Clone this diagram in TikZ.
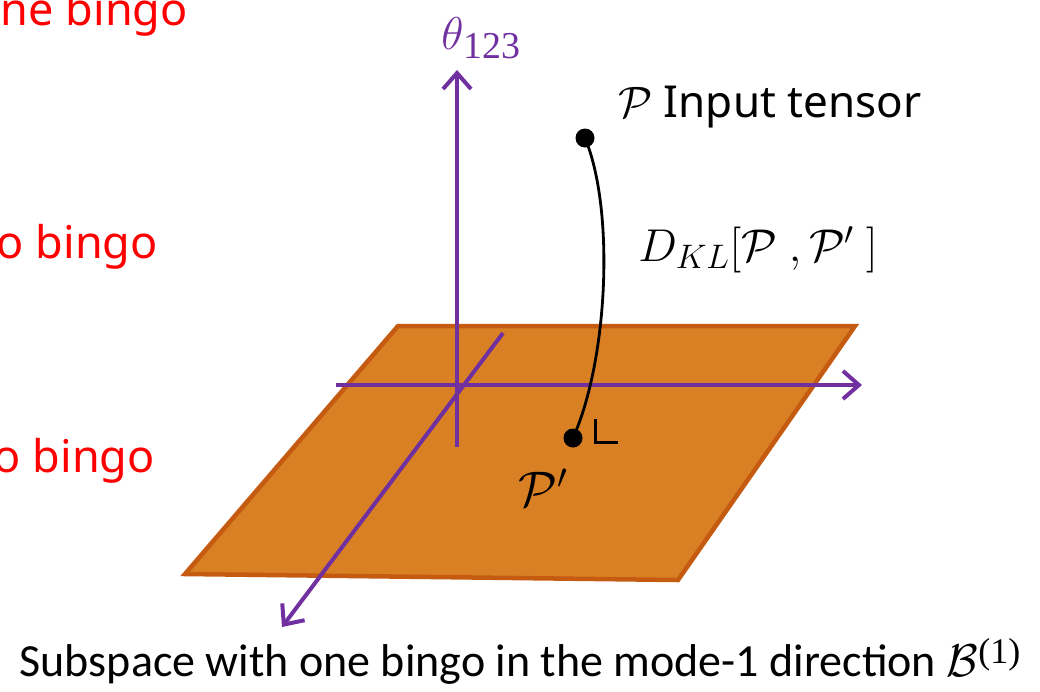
\RequirePackage{fix-cm}
\documentclass[tikz,border=0pt]{standalone}
\usepackage[no-math]{fontspec}
\setmainfont{Noto Sans}
\newfontfamily\botfont{Carlito}
\newfontfamily\digfont{Liberation Serif}
\usetikzlibrary{arrows.meta}
\definecolor{axpurple}{HTML}{7030A0}
\definecolor{planefill}{HTML}{D98024}
\definecolor{planeedge}{HTML}{C55A11}
\definecolor{redtxt}{HTML}{FF0000}
\tikzset{
  axis/.style={draw=axpurple, line width=4pt, -{Straight Barb[length=16pt,width=28pt,line width=4pt]}},
  pdot/.style={circle, fill=black, inner sep=0pt, minimum size=19pt},
  redlabel/.style={text=redtxt, font=\fontsize{45}{52}\selectfont, anchor=base east, inner sep=0pt},
  blabel/.style={text=black, inner sep=0pt},
}
\begin{document}
\begin{tikzpicture}[x=1pt,y=-1pt]
\useasboundingbox (0,0) rectangle (1040,691);
\clip (0,0) rectangle (1040,691);
% red cut-off texts
\node[redlabel] (r1) at (188,25) {ne bingo};
\node[redlabel] (r2) at (158,258) {o bingo};
\node[redlabel] (r3) at (155,472) {o bingo};
% plane
\coordinate (TL) at (398,326);
\coordinate (TR) at (855,326);
\coordinate (BR) at (678,580);
\coordinate (BL) at (185,574);
\filldraw[fill=planefill, draw=planeedge, line width=4.5pt, line join=miter] (TL) -- (TR) -- (BR) -- (BL) -- cycle;
% axes
\coordinate (vbot) at (457,447);
\coordinate (vtop) at (457,70);
\coordinate (hl) at (336,385);
\coordinate (hr) at (862,385);
\coordinate (dtop) at (503,333);
\coordinate (dbot) at (282,627);
\draw[axis] (vbot) -- (vtop);
\draw[axis] (hl) -- (hr);
\draw[axis] (dtop) -- (dbot);
\node[text=axpurple, font=\fontsize{46}{52}\selectfont] (theta) at (481,38) {$\theta$\raisebox{-9pt}{\digfont\fontsize{38}{38}\selectfont 123}};
% points
\node[pdot] (P) at (585,138) {};
\node[pdot] (Pp) at (573,438) {};
\draw[line width=2.8pt] (P.center) .. controls (615,210) and (608,360) .. (Pp.center);
% right angle mark
\coordinate (ra1) at (595,419);
\coordinate (ra2) at (595,442);
\coordinate (ra3) at (618,442);
\draw[line width=3pt] (ra1) -- (ra2) -- (ra3);
% labels
\node[blabel, anchor=base west, font=\fontsize{44}{52}\selectfont] (Plab) at (618,117) {$\mathcal{P}$ Input tensor};
\node[blabel, font=\fontsize{46}{54}\selectfont] (DKL) at (758,250) {$D_{\mbox{\fontsize{34}{34}\selectfont$KL$}}[\mathcal{P}\ ,\mathcal{P}'\ ]$};
\node[blabel, font=\fontsize{50}{58}\selectfont] (Pplab) at (543,488) {$\mathcal{P}'$};
\node[blabel, anchor=base, font=\botfont\fontsize{46}{54}\selectfont] (bottom) at (520,676) {Subspace with one bingo in the mode-1 direction $\mathcal{B}$\raisebox{13pt}{\digfont\fontsize{36}{36}\selectfont (1)}};
\end{tikzpicture}
\end{document}
